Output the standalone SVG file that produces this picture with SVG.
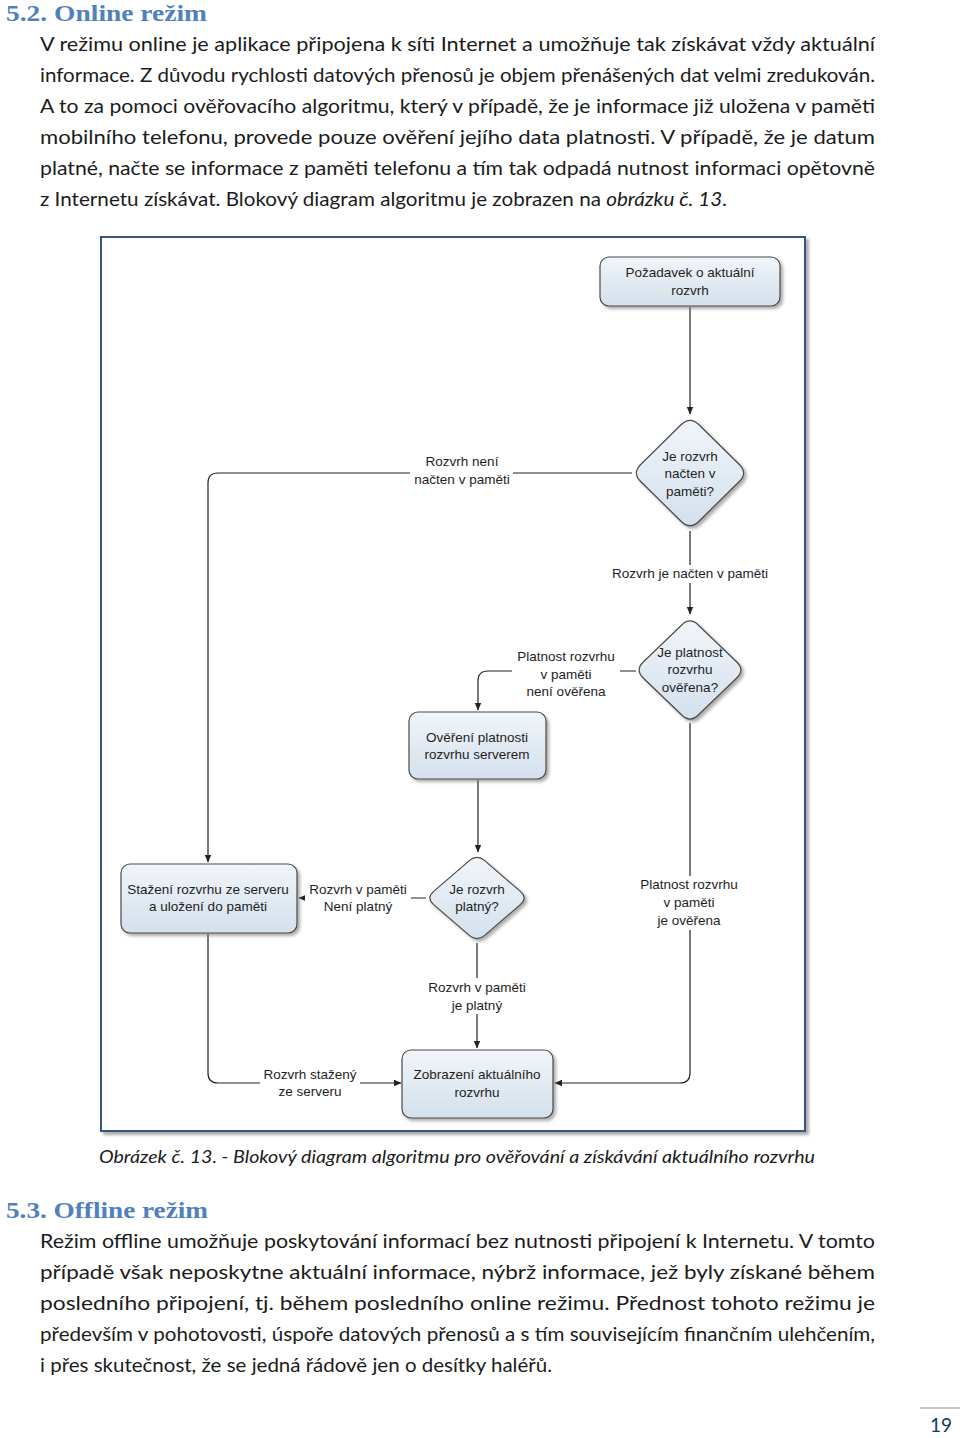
<svg xmlns="http://www.w3.org/2000/svg" width="960" height="1438" viewBox="0 0 960 1438">
<style>
.h{font-family:"Liberation Serif",serif;font-weight:bold;font-size:23.5px;fill:#4f81bd}
.b{font-family:Lato,"Liberation Sans",sans-serif;font-size:19px;fill:#1b1b1b}
.cap{font-family:Lato,"Liberation Sans",sans-serif;font-size:17.5px;font-style:italic;fill:#1b1b1b}
.t{font-family:"Liberation Sans",sans-serif;font-size:13.5px;fill:#1e1e1e;text-anchor:middle}
.n{fill:url(#g);stroke:#4a4a4a;stroke-width:1.2;filter:url(#sh)}
.c{fill:none;stroke:#222;stroke-width:1.2;marker-end:url(#ar)}
.bg{fill:#fff}
</style>
<defs>
<linearGradient id="g" x1="0" y1="0" x2="0" y2="1">
<stop offset="0" stop-color="#f1f5f9"/>
<stop offset="1" stop-color="#d3e0ec"/>
</linearGradient>
<filter id="sh" x="-20%" y="-20%" width="140%" height="140%">
<feDropShadow dx="2.5" dy="2.5" stdDeviation="1.5" flood-color="#777" flood-opacity="0.6"/>
</filter>
<filter id="fs" x="-5%" y="-5%" width="110%" height="110%">
<feDropShadow dx="3" dy="3" stdDeviation="1.5" flood-color="#888" flood-opacity="0.7"/>
</filter>
<marker id="ar" markerWidth="8" markerHeight="8" refX="7" refY="4" orient="auto" markerUnits="userSpaceOnUse">
<path d="M0,0.8 L7.5,4 L0,7.2 Z" fill="#222"/>
</marker>
</defs>
<rect width="960" height="1438" fill="#fff"/>

<text class="h" x="6" y="21" textLength="201" lengthAdjust="spacingAndGlyphs">5.2. Online režim</text>
<g class="b">
<text x="40" y="51" textLength="835" lengthAdjust="spacingAndGlyphs">V režimu online je aplikace připojena k síti Internet a umožňuje tak získávat vždy aktuální</text>
<text x="40" y="82" textLength="835" lengthAdjust="spacingAndGlyphs">informace. Z důvodu rychlosti datových přenosů je objem přenášených dat velmi zredukován.</text>
<text x="40" y="113" textLength="835" lengthAdjust="spacingAndGlyphs">A to za pomoci ověřovacího algoritmu, který v případě, že je informace již uložena v paměti</text>
<text x="40" y="144" textLength="835" lengthAdjust="spacingAndGlyphs">mobilního telefonu, provede pouze ověření jejího data platnosti. V případě, že je datum</text>
<text x="40" y="175" textLength="835" lengthAdjust="spacingAndGlyphs">platné, načte se informace z paměti telefonu a tím tak odpadá nutnost informaci opětovně</text>
<text x="40" y="206" textLength="687" lengthAdjust="spacingAndGlyphs">z Internetu získávat. Blokový diagram algoritmu je zobrazen na <tspan font-style="italic">obrázku č. 13</tspan>.</text>
</g>

<rect x="101" y="237" width="704" height="894" fill="#fff" stroke="#34577f" stroke-width="2" filter="url(#fs)"/>

<g id="connectors">
<path class="c" d="M690,307 V414"/>
<path class="c" d="M632,473 H218 Q208,473 208,483 V862"/>
<path class="c" d="M690,531 V614"/>
<path class="c" d="M636,671 H488 Q478,671 478,681 V710"/>
<path class="c" d="M478,780 V852"/>
<path class="c" d="M426,898 H299"/>
<path class="c" d="M208,934 V1073 Q208,1083 218,1083 H401"/>
<path class="c" d="M477,943 V1048"/>
<path class="c" d="M690,723 V1073 Q690,1083 680,1083 H555"/>
</g>

<g id="labels">
<rect class="bg" x="410" y="452" width="103" height="36"/>
<text class="t" x="462" y="466">Rozvrh není</text>
<text class="t" x="462" y="484">načten v paměti</text>
<rect class="bg" x="608" y="565" width="164" height="18"/>
<text class="t" x="690" y="578">Rozvrh je načten v paměti</text>
<rect class="bg" x="512" y="648" width="108" height="52"/>
<text class="t" x="566" y="661">Platnost rozvrhu</text>
<text class="t" x="566" y="679">v paměti</text>
<text class="t" x="566" y="696">není ověřena</text>
<rect class="bg" x="305" y="880" width="106" height="36"/>
<text class="t" x="358" y="894">Rozvrh v paměti</text>
<text class="t" x="358" y="911">Není platný</text>
<rect class="bg" x="632" y="876" width="116" height="54"/>
<text class="t" x="689" y="889">Platnost rozvrhu</text>
<text class="t" x="689" y="907">v paměti</text>
<text class="t" x="689" y="925">je ověřena</text>
<rect class="bg" x="424" y="978" width="106" height="36"/>
<text class="t" x="477" y="992">Rozvrh v paměti</text>
<text class="t" x="477" y="1010">je platný</text>
<rect class="bg" x="260" y="1065" width="100" height="36"/>
<text class="t" x="310" y="1079">Rozvrh stažený</text>
<text class="t" x="310" y="1096">ze serveru</text>
</g>

<g id="n1">
<rect class="n" x="600" y="257" width="180" height="49" rx="9"/>
<text class="t" x="690" y="277">Požadavek o aktuální</text>
<text class="t" x="690" y="295">rozvrh</text>
</g>
<g id="d1">
<path class="n" d="M698.7,424.55 L739.3,464.45 Q748,473 739.3,481.55 L698.7,521.45 Q690,530 681.3,521.45 L640.7,481.55 Q632,473 640.7,464.45 L681.3,424.55 Q690,416 698.7,424.55 Z"/>
<text class="t" x="690" y="461">Je rozvrh</text>
<text class="t" x="690" y="478">načten v</text>
<text class="t" x="690" y="496">paměti?</text>
</g>
<g id="d2">
<path class="n" d="M698.25,624.95 L736.75,662.05 Q745,670 736.75,677.95 L698.25,715.05 Q690,723 681.75,715.05 L643.25,677.95 Q635,670 643.25,662.05 L681.75,624.95 Q690,617 698.25,624.95 Z"/>
<text class="t" x="690" y="657">Je platnost</text>
<text class="t" x="690" y="674">rozvrhu</text>
<text class="t" x="690" y="692">ověřena?</text>
</g>
<g id="n2">
<rect class="n" x="409" y="712" width="137" height="67" rx="9"/>
<text class="t" x="477" y="742">Ověření platnosti</text>
<text class="t" x="477" y="759">rozvrhu serverem</text>
</g>
<g id="d3">
<path class="n" d="M484.65,860.6 L520.35,891.4 Q528,898 520.35,904.6 L484.65,935.4 Q477,942 469.35,935.4 L433.65,904.6 Q426,898 433.65,891.4 L469.35,860.6 Q477,854 484.65,860.6 Z"/>
<text class="t" x="477" y="894">Je rozvrh</text>
<text class="t" x="477" y="911">platný?</text>
</g>
<g id="n3">
<rect class="n" x="121" y="864" width="176" height="69" rx="9"/>
<text class="t" x="208" y="894">Stažení rozvrhu ze serveru</text>
<text class="t" x="208" y="911">a uložení do paměti</text>
</g>
<g id="n4">
<rect class="n" x="402" y="1050" width="151" height="68" rx="9"/>
<text class="t" x="477" y="1079">Zobrazení aktuálního</text>
<text class="t" x="477" y="1097">rozvrhu</text>
</g>

<text class="cap" x="99" y="1163" textLength="716" lengthAdjust="spacingAndGlyphs">Obrázek č. 13. - Blokový diagram algoritmu pro ověřování a získávání aktuálního rozvrhu</text>

<text class="h" x="6" y="1218" textLength="202" lengthAdjust="spacingAndGlyphs">5.3. Offline režim</text>
<g class="b">
<text x="40" y="1248" textLength="835" lengthAdjust="spacingAndGlyphs">Režim offline umožňuje poskytování informací bez nutnosti připojení k Internetu. V tomto</text>
<text x="40" y="1279" textLength="835" lengthAdjust="spacingAndGlyphs">případě však neposkytne aktuální informace, nýbrž informace, jež byly získané během</text>
<text x="40" y="1310" textLength="835" lengthAdjust="spacingAndGlyphs">posledního připojení, tj. během posledního online režimu. Přednost tohoto režimu je</text>
<text x="40" y="1341" textLength="835" lengthAdjust="spacingAndGlyphs">především v pohotovosti, úspoře datových přenosů a s tím souvisejícím finančním ulehčením,</text>
<text x="40" y="1372" textLength="512" lengthAdjust="spacingAndGlyphs">i přes skutečnost, že se jedná řádově jen o desítky haléřů.</text>
</g>

<line x1="920" y1="1408" x2="960" y2="1408" stroke="#8c8c8c" stroke-width="1"/>
<text x="930" y="1432" font-family="Lato,'Liberation Sans',sans-serif" font-size="19" fill="#17365d">19</text>
</svg>
